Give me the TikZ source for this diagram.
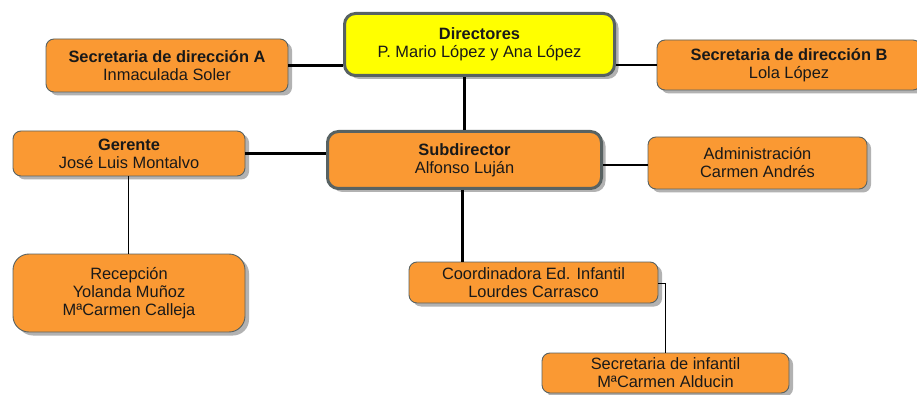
\documentclass[tikz,border=0pt]{standalone}
\usepackage[RGB]{xcolor}
\usepackage{fontspec}
\setmainfont{Liberation Sans}
\usetikzlibrary{shadows}
\definecolor{naranja}{RGB}{250,153,51}
\definecolor{amarillo}{RGB}{255,255,0}
\definecolor{borde}{RGB}{88,98,98}
\definecolor{sombra}{RGB}{178,178,178}
\definecolor{texto}{RGB}{25,25,25}
\tikzset{
  caja/.style={draw=borde, line width=0.9pt, fill=naranja, rounded corners=8pt,
    align=center, inner sep=0pt, text=texto,
    font=\fontsize{16.4}{18}\selectfont,
    drop shadow={shadow xshift=4pt, shadow yshift=-3.5pt, fill=sombra, opacity=1}},
  jefe/.style={caja, line width=3pt, rounded corners=11pt},
  linea/.style={line width=2.6pt, black},
  lineafina/.style={line width=0.9pt, black}
}
\newcommand{\cargo}[2]{\textbf{#1}\\#2}
\begin{document}
\begin{tikzpicture}[x=1pt,y=-1pt]
\useasboundingbox[fill=white] (0,0) rectangle (917,395);
% cajas
\node[jefe, fill=amarillo, minimum width=270pt, minimum height=62pt] (dir) at (479.5,44.5) {\cargo{Directores}{P. Mario López y Ana López}};
\node[caja, minimum width=242pt, minimum height=53pt] (secA) at (167,65.5) {\cargo{Secretaria de dirección A}{Inmaculada Soler}};
\node[caja, minimum width=264pt, minimum height=50pt] (secB) at (789,65) {\cargo{Secretaria de dirección B}{Lola López}};
\node[caja, minimum width=232pt, minimum height=45pt] (ger) at (129,153.5) {\cargo{Gerente}{José Luis Montalvo}};
\node[jefe, minimum width=274pt, minimum height=57pt] (sub) at (464.5,160) {\cargo{Subdirector}{Alfonso Luján}};
\node[caja, minimum width=219pt, minimum height=52pt] (adm) at (757.5,163) {Administración\\Carmen Andrés};
\node[caja, rounded corners=16pt, minimum width=232pt, minimum height=78pt] (rec) at (129,293) {Recepción\\Yolanda Muñoz\\MªCarmen Calleja};
\node[caja, minimum width=249pt, minimum height=41pt] (coord) at (533.5,282.5) {Coordinadora Ed. Infantil\\Lourdes Carrasco};
\node[caja, minimum width=247pt, minimum height=40pt] (secinf) at (665.5,373) {Secretaria de infantil\\MªCarmen Alducin};
% conexiones
\draw[linea] (secA.east) -- (secA.east -| dir.west);
\draw[linea] (secB.west) -- (secB.west -| dir.east);
\draw[linea] (sub.north) -- (sub.north |- dir.south);
\draw[linea] (ger.east) -- (ger.east -| sub.west);
\draw[linea] ([yshift=-5pt]sub.east) -- ([yshift=-5pt]sub.east -| adm.west);
\draw[linea] ([xshift=-2pt]sub.south) -- ([xshift=-2pt]sub.south |- coord.north);
\draw[lineafina] ([xshift=-1pt]ger.south) -- ([xshift=-1pt]ger.south |- rec.north);
\draw[lineafina] ([yshift=-1pt]coord.east) -| (secinf.north);
\end{tikzpicture}
\end{document}
